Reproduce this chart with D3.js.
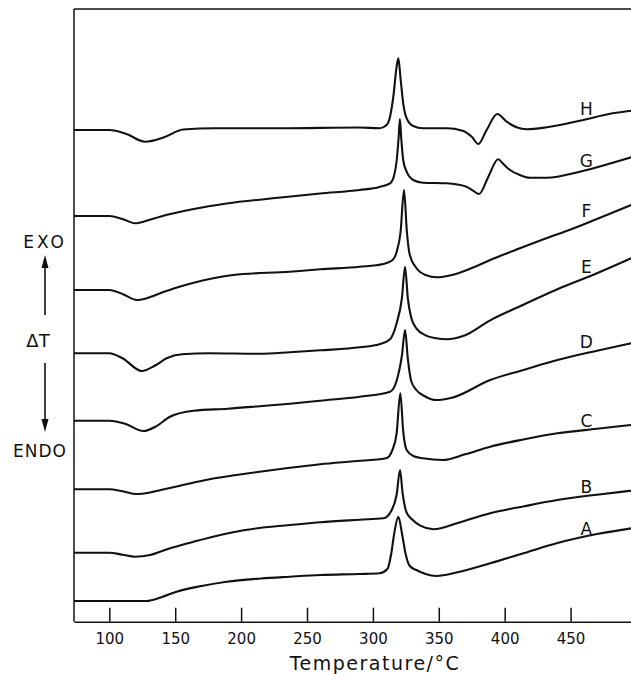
<!DOCTYPE html>
<html>
<head>
<meta charset="utf-8">
<script src="https://cdn.jsdelivr.net/npm/d3@7"></script>
<style>
  body { margin: 0; background: #fff; }
  svg { display: block; }
  text { font-family: "DejaVu Sans", sans-serif; fill: #111; }
</style>
</head>
<body>
<div id="container"></div>
<script>
/* DATA: DTA traces, temperature (°C) vs ΔT (arbitrary units, relative to each trace's start) */
const tickTemps = [100, 150, 200, 250, 300, 350, 400, 450]
const traceNames = ["A", "B", "C", "D", "E", "F", "G", "H"]
// vertical offset of each trace (arbitrary ΔT units)
const traceOffsets = [20.7, 69, 132.4, 201, 268.4, 331.7, 405.7, 491.7]
// level for each trace letter
const labelLevels = [86.7, 128.7, 194.7, 273.7, 348.7, 404.7, 454.7, 506.7]
const labelTemp = 462

const traceA = [[73,0],[100,0],[128,0],[140,4],[151,9.3],[170,15],[189,19.3],[215,22.5],[237,24.3],[260,26],[290,27],[305,27.7],[311,32],[314,48],[316,66],[319.3,84.3],[322,68],[325,46],[328,35],[333,31],[340,27],[348,25],[365,29],[389,37.7],[415,48],[440,58],[470,67],[496,72.7]]
const traceB = [[73,0],[100,0],[110,-2],[119.5,-4],[131,-2.3],[145,4],[164,11],[185,18],[202,22.5],[237,27.7],[260,30.5],[290,33],[308,34.4],[314,42],[318,58],[320.6,82.7],[322.5,60],[325.6,40],[330,33],[336,27],[346,23.4],[365,30],[389,39.4],[415,46.5],[440,52.7],[470,58],[496,62]]
const traceC = [[73,0],[100,0],[110,-2],[121,-4.7],[130,-3.5],[139,-0.7],[155,4],[176,10],[195,14],[214,17.6],[237,21.5],[260,25],[285,28],[310,31],[315,40],[318,56],[320.8,96],[323,58],[325.6,39.3],[331,33],[338,31],[353,29.3],[370,35],[389,42.6],[415,50],[440,56],[470,60.5],[496,64.3]]
const traceD = [[73,0],[100,0],[112,-3],[125.8,-10.3],[135,-6],[146,4],[164,10],[190,12],[214,14.5],[237,17],[260,20],[290,24],[313,29],[318,40],[322,65],[324.4,90.7],[326.5,62],[329,40],[333,30.7],[340,24],[348,20.7],[360,23],[389,40.7],[415,51],[440,60.7],[470,70],[496,77.4]]
const traceE = [[73,0],[100,0],[110,-5],[124.6,-17.7],[135,-12],[143.5,-5],[155,-1],[176,0],[214,-0.5],[237,1],[260,3],[290,6],[305,9],[313,14],[318,30],[322,55],[324.4,86.6],[326.5,55],[329,36],[333,25],[340,18],[348,15],[356,14],[370,18],[389,33],[410,46],[440,64],[470,80],[496,95]]
const traceF = [[73,0],[100,0],[110,-4],[121,-10],[130,-7.5],[138.5,-3.3],[150,2],[164,7.3],[194,15],[237,18.3],[260,20.7],[290,23.3],[308,26],[315,30],[318,38],[321,58],[323.6,100],[325.8,58],[328,35],[333,22],[340,15],[348.4,12.7],[360,15],[375,22],[389,30],[410,41],[430,51],[450,60.5],[470,71],[496,85]]
const traceG = [[73,0],[100,0],[110,-3],[119.5,-7.3],[130,-4],[138.5,-0.7],[164,7],[189,12.5],[230,18.5],[260,22.5],[290,26],[305,29],[313,32.7],[316,40],[318,55],[319.5,78],[320.5,97],[321.5,78],[323,56],[325.6,44.3],[330.6,36],[338,33.3],[356,32.7],[371,29.3],[376,25.3],[380.5,22],[387.6,39.3],[395,56.7],[399,52],[404,46],[411.6,41],[419,38.3],[432,38.3],[457,44.3],[482,53.3],[496,58.7]]
const traceH = [[73,0],[100,0],[113,-4],[127,-11.7],[142,-7],[156,0.5],[180,1.7],[230,1.7],[290,2.5],[305,1.7],[310.4,5],[313,13.3],[315.5,33.3],[318,63.3],[319.3,71.7],[321.1,50],[323,26.7],[325.6,11.7],[330.6,4],[338,1.7],[356,1.7],[368,-0.7],[375,-6.7],[380,-14],[386.3,0],[394.4,16],[401.5,8.3],[409,2.7],[416.7,0.7],[432,2.7],[457,9.3],[482,16.7],[496,19.3]]

const traces = [traceA, traceB, traceC, traceD, traceE, traceF, traceG, traceH]

/* LAYOUT */
const width = 631, height = 674
const plotLeft = 74, plotRight = 631.2, plotTop = 9, plotBottom = 621.7

const svg = d3.select("#container")
  .append("svg")
  .attr("width", width)
  .attr("height", height)

const x = d3.scaleLinear()
  .domain([73.2, 496])
  .range([plotLeft, plotRight])

const y = d3.scaleLinear()
  .domain([0, plotBottom - plotTop])
  .range([plotBottom, plotTop])

const line = d3.line()
  .x(d => x(d[0]))
  .y(d => y(d[1]))
  .curve(d3.curveMonotoneX)

// traces
svg.append("g")
  .selectAll("path")
  .data(traces)
  .join("path")
  .attr("d", (d, i) => line(d.map(p => [Math.max(p[0], 73.2), p[1] + traceOffsets[i]])))
  .attr("fill", "none")
  .attr("stroke", "#111")
  .attr("stroke-width", 2.1)
  .attr("stroke-linejoin", "round")

// trace letters
svg.append("g")
  .selectAll("text")
  .data(traceNames)
  .join("text")
  .attr("x", x(labelTemp))
  .attr("y", (d, i) => y(labelLevels[i]))
  .attr("text-anchor", "middle")
  .attr("font-size", 17)
  .text(d => d)

// bottom axis, ticks pointing up into the plot
const xAxis = d3.axisBottom(x)
  .tickValues(tickTemps)
  .tickSizeInner(-14)
  .tickSizeOuter(0)
  .tickPadding(12)

const gx = svg.append("g")
  .attr("transform", `translate(0,${plotBottom})`)
  .call(xAxis)
gx.select(".domain").attr("stroke", "#111").attr("stroke-width", 1.5)
gx.selectAll(".tick line").attr("stroke", "#111").attr("stroke-width", 1.5)
gx.selectAll(".tick text")
  .attr("font-size", 15)
  .attr("font-family", "DejaVu Sans Condensed, DejaVu Sans, sans-serif")
  .attr("fill", "#111")

// left and top frame lines
svg.append("line")
  .attr("x1", plotLeft).attr("x2", plotLeft)
  .attr("y1", plotTop).attr("y2", plotBottom)
  .attr("stroke", "#111").attr("stroke-width", 1.5)
svg.append("line")
  .attr("x1", plotLeft).attr("x2", width)
  .attr("y1", plotTop).attr("y2", plotTop)
  .attr("stroke", "#111").attr("stroke-width", 1.5)

// axis title
svg.append("text")
  .attr("x", 375)
  .attr("y", 670)
  .attr("text-anchor", "middle")
  .attr("font-size", 19)
  .attr("letter-spacing", 1.5)
  .text("Temperature/°C")

// EXO / ΔT / ENDO annotation on the left
const ann = svg.append("g")
ann.append("text").attr("x", 45).attr("y", 248).attr("text-anchor", "middle")
  .attr("font-size", 17).attr("letter-spacing", 3).text("EXO")
ann.append("text").attr("x", 38).attr("y", 347).attr("text-anchor", "middle")
  .attr("font-size", 18).text("ΔT")
ann.append("text").attr("x", 40).attr("y", 457).attr("text-anchor", "middle")
  .attr("font-size", 17).attr("letter-spacing", 1).text("ENDO")

ann.append("line").attr("x1", 45).attr("x2", 45).attr("y1", 315).attr("y2", 264)
  .attr("stroke", "#111").attr("stroke-width", 1.6)
ann.append("path").attr("d", "M45,255 L41.5,268 L48.5,268 Z").attr("fill", "#111")
ann.append("line").attr("x1", 45).attr("x2", 45).attr("y1", 363).attr("y2", 422)
  .attr("stroke", "#111").attr("stroke-width", 1.6)
ann.append("path").attr("d", "M45,432 L41.5,419 L48.5,419 Z").attr("fill", "#111")
</script>
</body>
</html>
